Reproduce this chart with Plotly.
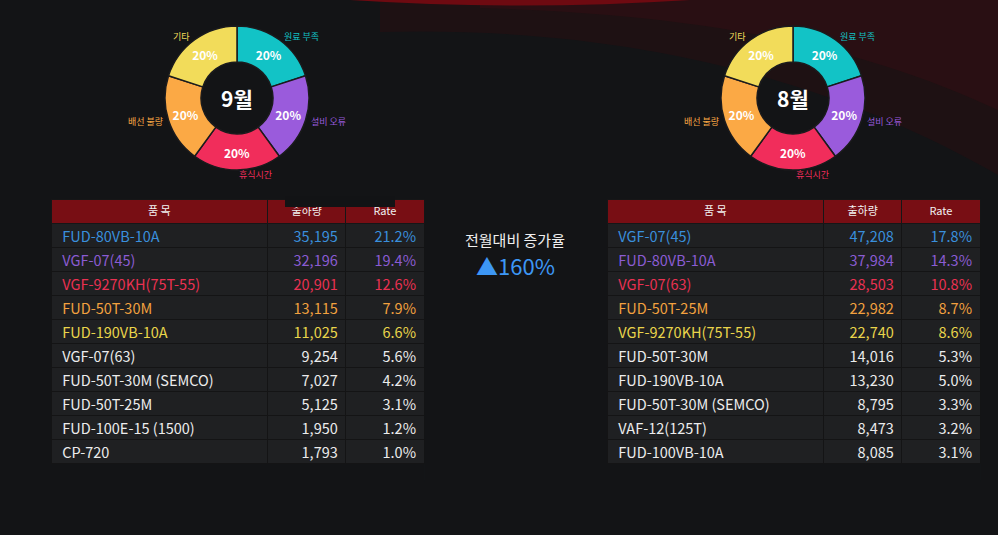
import math
import plotly.graph_objects as go

# ---- data ----
causes = ["원료 부족", "설비 오류", "휴식시간", "배선 불량", "기타"]
cause_colors = ["#12c3c6", "#9a5bdc", "#f12d5b", "#fba945", "#f2dc5a"]
sep_share = [20, 20, 20, 20, 20]
aug_share = [20, 20, 20, 20, 20]

sep_items = ["FUD-80VB-10A", "VGF-07(45)", "VGF-9270KH(75T-55)", "FUD-50T-30M", "FUD-190VB-10A",
             "VGF-07(63)", "FUD-50T-30M (SEMCO)", "FUD-50T-25M", "FUD-100E-15 (1500)", "CP-720"]
sep_qty = [35195, 32196, 20901, 13115, 11025, 9254, 7027, 5125, 1950, 1793]
sep_rate = [21.2, 19.4, 12.6, 7.9, 6.6, 5.6, 4.2, 3.1, 1.2, 1.0]

aug_items = ["VGF-07(45)", "FUD-80VB-10A", "VGF-07(63)", "FUD-50T-25M", "VGF-9270KH(75T-55)",
             "FUD-50T-30M", "FUD-190VB-10A", "FUD-50T-30M (SEMCO)", "VAF-12(125T)", "FUD-100VB-10A"]
aug_qty = [47208, 37984, 28503, 22982, 22740, 14016, 13230, 8795, 8473, 8085]
aug_rate = [17.8, 14.3, 10.8, 8.7, 8.6, 5.3, 5.0, 3.3, 3.2, 3.1]

table_header = ["품 목", "출하량", "Rate"]
growth_label = "전월대비 증가율"
growth_pct = 160

rank_colors = ["#3a8fdc", "#8b5cd3", "#ea3152", "#f2a13f", "#ead54b"]
plain_color = "#ececec"

W, H = 998, 535
FONT = "Noto Sans CJK KR, Noto Sans, sans-serif"
BG = "#131416"


def px(x):
    return x / W


def py(y):
    return 1 - y / H


fig = go.Figure()

# ---- donuts ----
donuts = [
    ("9월", sep_share, 237, 98),
    ("8월", aug_share, 793, 98),
]
R = 72
annotations = []
for title, share, cx, cy in donuts:
    fig.add_trace(go.Pie(
        labels=causes, values=share, sort=False, direction="clockwise", rotation=0,
        hole=0.5,
        marker=dict(colors=cause_colors, line=dict(color="#1b1b1d", width=1.5)),
        texttemplate="<b>%{percent:.0%}</b>", textposition="inside",
        insidetextorientation="horizontal",
        textfont=dict(family=FONT, size=12, color="white"),
        showlegend=False, hoverinfo="label+percent",
        domain=dict(x=[px(cx - R), px(cx + R)], y=[py(cy + R), py(cy - R)]),
    ))
    annotations.append(dict(
        x=px(cx), y=py(cy), xref="paper", yref="paper", text="<b>%s</b>" % title,
        xanchor="center", yanchor="middle",
        showarrow=False, font=dict(family=FONT, size=21, color="white"),
    ))
    # outer category labels placed at each slice's mid-angle
    total = sum(share)
    acc = 0
    for name, val, col in zip(causes, share, cause_colors):
        mid = (acc + val / 2) / total * 2 * math.pi
        acc += val
        s, c = math.sin(mid), math.cos(mid)
        rr = R + 4
        lx, ly = cx + rr * s, cy - rr * c
        if s > 0.2:
            xa = "left"
        elif s < -0.2:
            xa = "right"
        else:
            xa = "center"
            lx += 19
        annotations.append(dict(
            x=px(lx), y=py(ly), xref="paper", yref="paper", text=name,
            xanchor=xa, yanchor="middle", showarrow=False,
            font=dict(family=FONT, size=9, color=col),
        ))

# ---- tables ----
TABLE_TOP, TABLE_BOTTOM = 199, 480
tables = [
    (sep_items, sep_qty, sep_rate, 51, 424),
    (aug_items, aug_qty, aug_rate, 607, 980),
]


def make_table(items, qty, rate, x0, x1):
    n = len(items)
    colors = [rank_colors[i] if i < len(rank_colors) else plain_color for i in range(n)]
    return go.Table(
        domain=dict(x=[px(x0), px(x1)], y=[py(TABLE_BOTTOM), py(TABLE_TOP)]),
        columnwidth=[216, 78, 78],
        header=dict(
            values=table_header, height=24,
            fill_color="#780e14", line=dict(color="#161617", width=1),
            align="center", font=dict(family=FONT, size=11, color="#f2f2f2"),
        ),
        cells=dict(
            values=[[" " + it for it in items],
                    ["{:,}".format(q) for q in qty],
                    ["{:.1f}%".format(r) for r in rate]],
            height=24,
            fill_color="#1f2022", line=dict(color="#141415", width=1),
            align=["left", "right", "right"],
            font=dict(family=FONT, size=14.5, color=[colors, colors, colors]),
        ),
    )


for t in tables:
    fig.add_trace(make_table(*t))

# ---- centre growth figure ----
annotations.append(dict(x=px(515), y=py(239), xref="paper", yref="paper", text=growth_label,
                        xanchor="center", yanchor="middle",
                        showarrow=False, font=dict(family=FONT, size=15, color="#f0f0f0")))
annotations.append(dict(x=px(515), y=py(265), xref="paper", yref="paper",
                        xanchor="center", yanchor="middle",
                        text="▲%d%%" % growth_pct, showarrow=False,
                        font=dict(family=FONT, size=22, color="#3d97f5")))

# ---- background swoosh ----
shapes = [
    dict(type="path", xref="paper", yref="paper", layer="below", line=dict(width=0),
         fillcolor="rgba(60,10,16,0.28)",
         path="M %f,%f L %f,%f L %f,%f C %f,%f %f,%f %f,%f Z" % (
             px(380), py(0), px(998), py(0), px(998), py(175),
             px(850), py(90), px(650), py(25), px(380), py(32))),
    dict(type="path", xref="paper", yref="paper", layer="below", line=dict(width=0),
         fillcolor="rgba(75,12,18,0.25)",
         path="M %f,%f L %f,%f L %f,%f C %f,%f %f,%f %f,%f Z" % (
             px(480), py(0), px(998), py(0), px(998), py(110),
             px(860), py(45), px(700), py(14), px(480), py(8))),
    dict(type="path", xref="paper", yref="paper", layer="below", line=dict(width=0),
         fillcolor="#6e0a11",
         path="M %f,%f Q %f,%f %f,%f Z" % (px(350), py(0), px(520), py(11), px(690), py(0))),
    # dark strip overlapping the left header
    dict(type="rect", xref="paper", yref="paper", layer="above", line=dict(width=0),
         fillcolor="#121315", x0=px(285), x1=px(395), y0=py(207), y1=py(196)),
]
# keep the area right of each table clean
for _, _, _, x0, x1 in tables:
    shapes.append(dict(type="rect", xref="paper", yref="paper", layer="above", line=dict(width=0),
                       fillcolor=BG, x0=px(x1 + 0.5), x1=px(min(x1 + 20, W)),
                       y0=py(TABLE_BOTTOM + 2), y1=py(TABLE_TOP - 2)))

fig.update_layout(
    width=W, height=H, margin=dict(l=0, r=0, t=0, b=0),
    paper_bgcolor=BG, plot_bgcolor=BG,
    annotations=annotations, shapes=shapes, showlegend=False,
    font=dict(family=FONT),
)

fig.write_html("out.html", config={"displayModeBar": False})
